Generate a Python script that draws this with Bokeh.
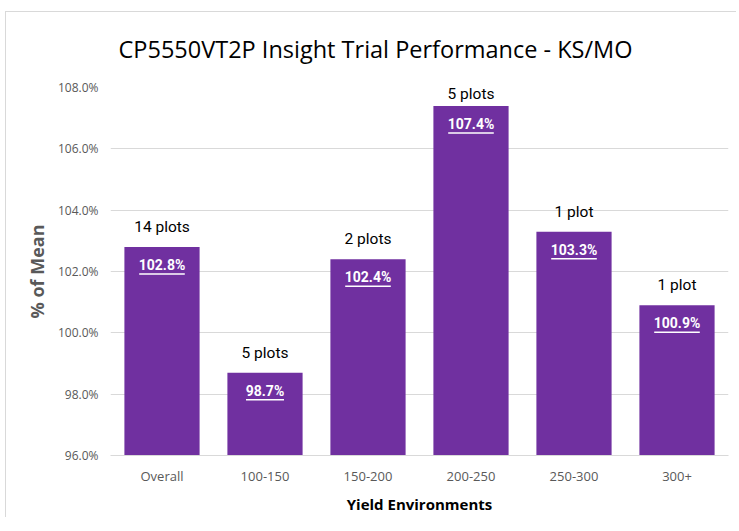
from bokeh.plotting import figure
from bokeh.models import ColumnDataSource, PrintfTickFormatter, Range1d, FactorRange, LabelSet
from bokeh.core.properties import value
from bokeh.embed import file_html
from bokeh.resources import INLINE

categories = ["Overall", "100-150", "150-200", "200-250", "250-300", "300+"]
pct_of_mean = [102.8, 98.7, 102.4, 107.4, 103.3, 100.9]
plot_counts = ["14 plots", "5 plots", "2 plots", "5 plots", "1 plot", "1 plot"]

Y_MIN, Y_MAX = 96, 108
FRAME_H = 368
PX_PER_UNIT = FRAME_H / (Y_MAX - Y_MIN)

src = ColumnDataSource(dict(
    cat=categories,
    val=pct_of_mean,
    bottom=[Y_MIN] * len(categories),
    lbl=[f"{v:.1f}%" for v in pct_of_mean],
    cnt=plot_counts,
    # count label floats above the bar, but is kept inside the plot area
    cnt_y=[min(v + 20 / PX_PER_UNIT, Y_MAX - 6 / PX_PER_UNIT) for v in pct_of_mean],
    ul_y=[v - 27 / PX_PER_UNIT for v in pct_of_mean],
    ul_w=[len(f"{v:.1f}%") * 7.6 for v in pct_of_mean],
))

p = figure(x_range=FactorRange(*categories, range_padding=0), y_range=Range1d(Y_MIN, Y_MAX),
           frame_width=618, frame_height=FRAME_H, output_backend="svg", toolbar_location=None,
           min_border_left=104, min_border_right=8, min_border_top=74, min_border_bottom=62,
           styles={"margin-left": "5px", "margin-top": "11px",
                   "border-left": "1px solid #d9d9d9", "border-top": "1px solid #d9d9d9"})

p.title.text = "CP5550VT2P Insight Trial Performance - KS/MO"
p.title.align = "left"
p.title.vertical_align = "top"
p.title.offset = 8
p.title.standoff = 41
p.title.text_font = "Open Sans"
p.title.text_font_size = "23.5px"
p.title.text_font_style = "normal"
p.title.text_color = "#000000"

p.vbar(x="cat", top="val", bottom="bottom", width=0.73, source=src,
       fill_color="#7030A0", line_color=None)

p.add_layout(LabelSet(x="cat", y="cnt_y", text="cnt", source=src, text_align="center",
                      text_baseline="middle", text_font=value("Roboto"),
                      text_font_size=value("15.5px"), text_color="#000000"))

p.text(x="cat", y="val", text="lbl", source=src, text_align="center",
       text_baseline="middle", y_offset=18, text_font=value("Roboto"),
       text_font_size="14px", text_font_style="bold", text_color="#ffffff")

p.rect(x="cat", y="ul_y", width="ul_w", height=1.5, width_units="screen",
       height_units="screen", source=src, fill_color="#ffffff", line_color=None)

p.outline_line_color = None
p.background_fill_color = "white"
p.border_fill_color = "white"

p.xgrid.grid_line_color = None
p.ygrid.grid_line_color = "#d9d9d9"
p.ygrid.grid_line_width = 1
p.yaxis.ticker = [96, 98, 100, 102, 104, 106, 108]
p.yaxis.formatter = PrintfTickFormatter(format="%.1f%%")

p.yaxis.axis_line_color = None
p.yaxis.major_tick_line_color = None
p.yaxis.minor_tick_line_color = None
p.yaxis.major_label_text_font = "Open Sans"
p.yaxis.major_label_text_font_size = "12px"
p.yaxis.major_label_text_color = "#595959"
p.yaxis.major_label_standoff = 6
p.yaxis.axis_label = "% of Mean"
p.yaxis.axis_label_text_font = "Open Sans"
p.yaxis.axis_label_text_font_size = "18px"
p.yaxis.axis_label_text_font_style = "bold"
p.yaxis.axis_label_text_color = "#595959"
p.yaxis.axis_label_standoff = 6

p.xaxis.axis_line_color = "#d9d9d9"
p.xaxis.axis_line_width = 1
p.xaxis.major_tick_line_color = None
p.xaxis.minor_tick_line_color = None
p.xaxis.major_label_text_font = "Open Sans"
p.xaxis.major_label_text_font_size = "13px"
p.xaxis.major_label_text_color = "#595959"
p.xaxis.major_label_standoff = 5
p.xaxis.axis_label = "Yield Environments"
p.xaxis.axis_label_text_font = "Open Sans"
p.xaxis.axis_label_text_font_size = "15px"
p.xaxis.axis_label_text_font_style = "bold"
p.xaxis.axis_label_text_color = "#000000"
p.xaxis.axis_label_standoff = 6

open("out.html", "w").write(file_html(p, INLINE))
